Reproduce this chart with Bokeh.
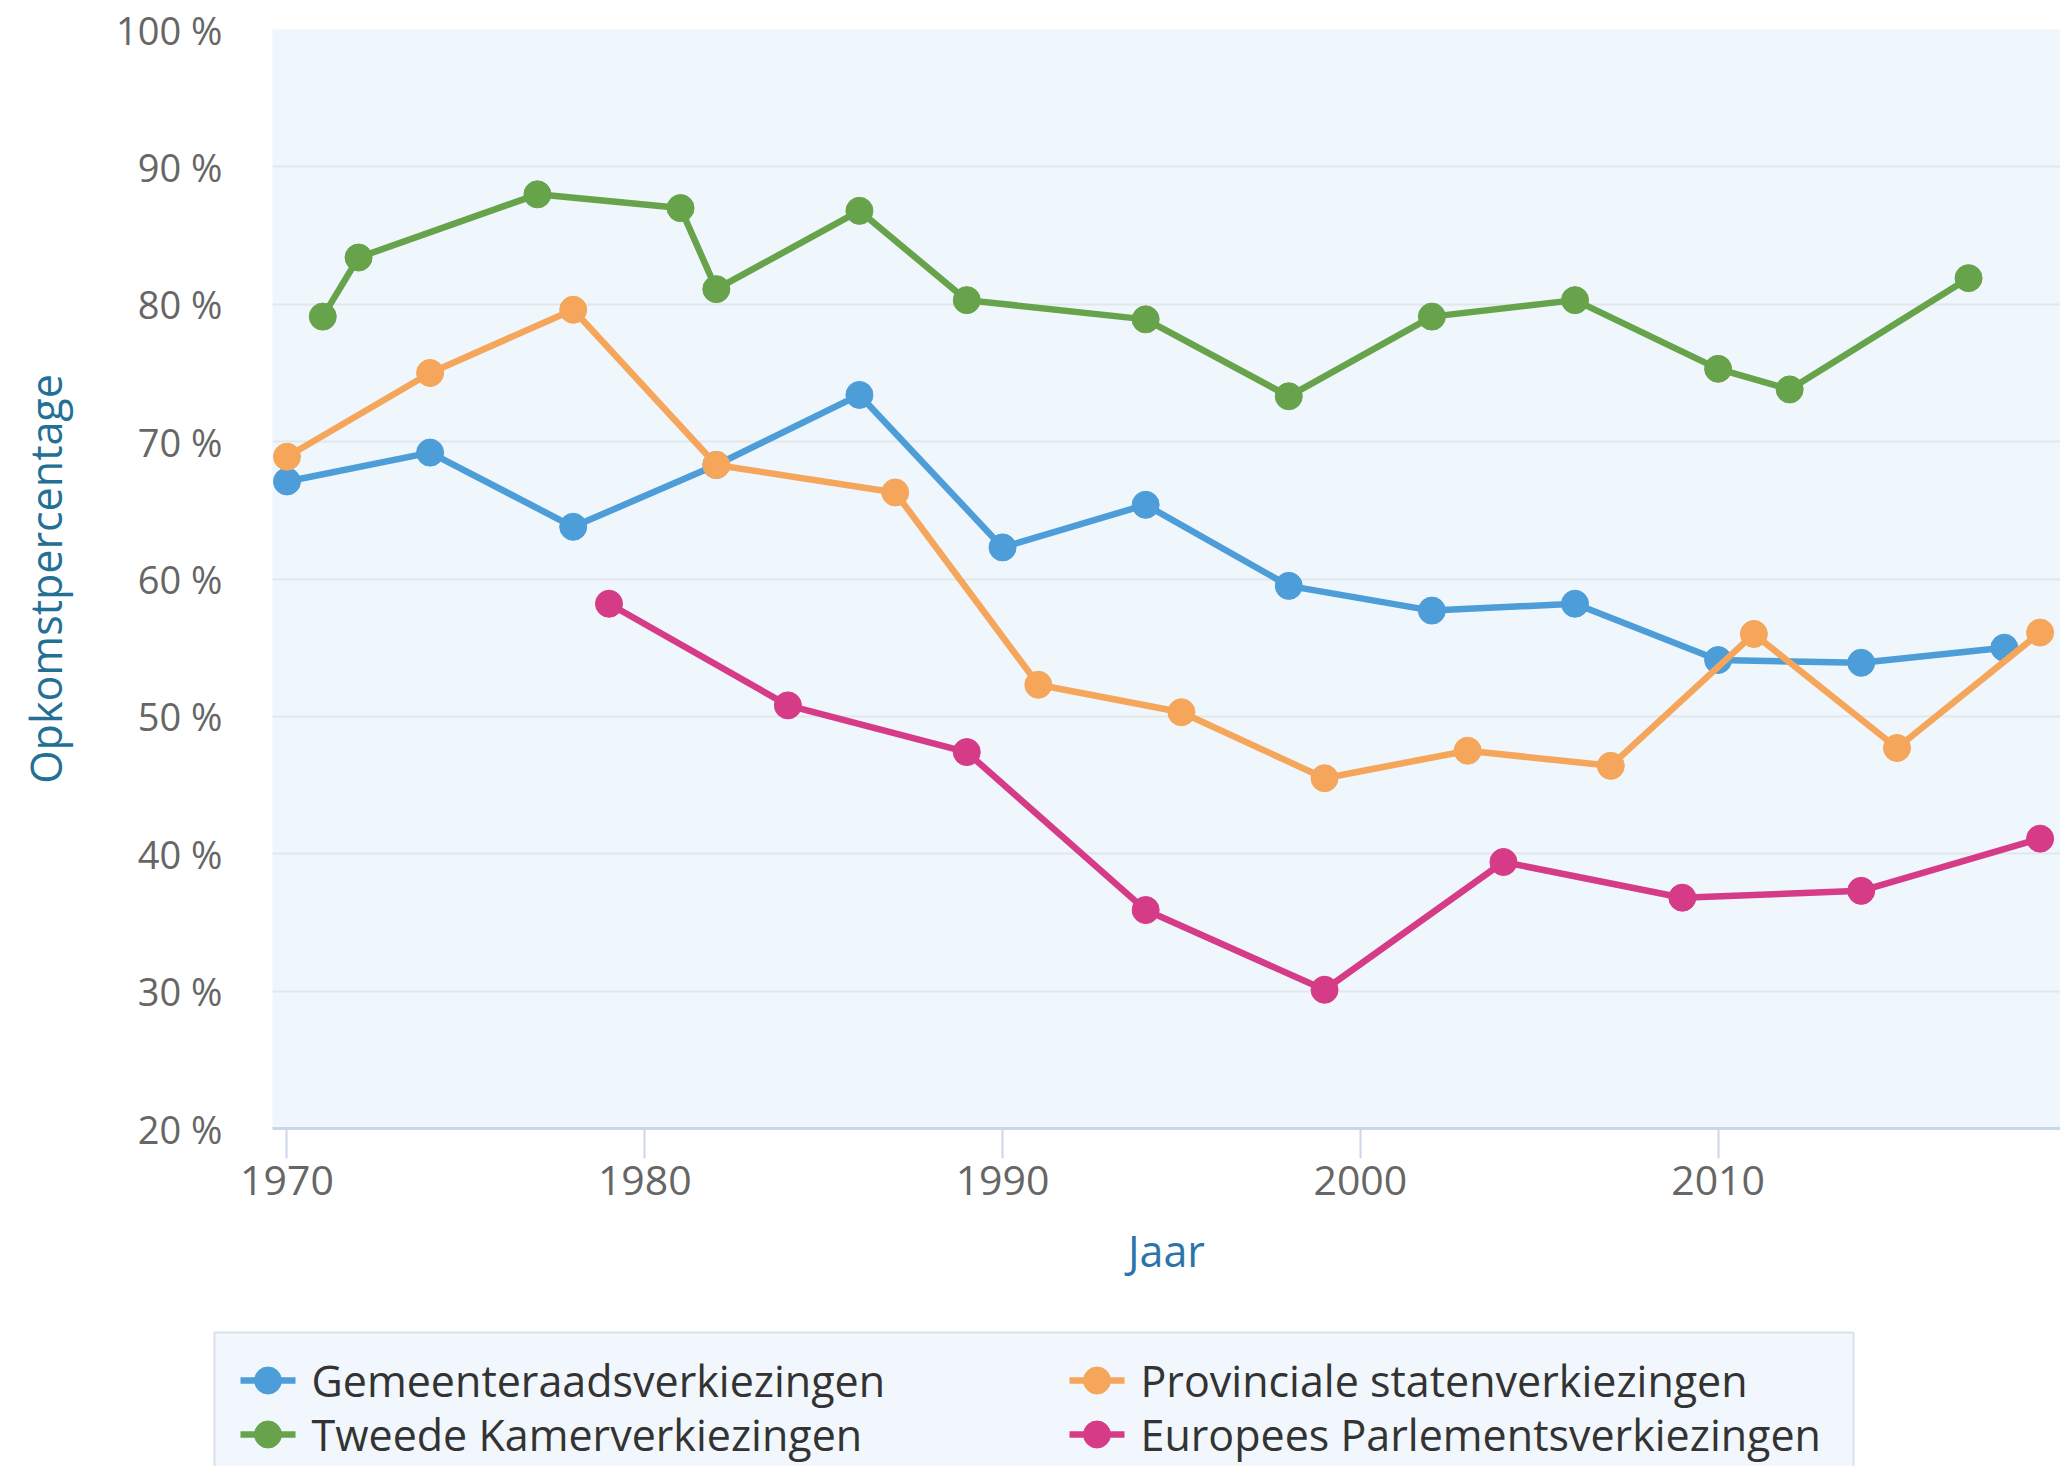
from bokeh.plotting import figure
from bokeh.layouts import column
from bokeh.models import FixedTicker, PrintfTickFormatter, Range1d
from bokeh.core.properties import value
from bokeh.embed import file_html
from bokeh.resources import INLINE

# ---- data ----
gem_years = [1970, 1974, 1978, 1982, 1986, 1990, 1994, 1998, 2002, 2006, 2010, 2014, 2018]
gem_vals = [67.1, 69.2, 63.8, 68.3, 73.4, 62.3, 65.4, 59.5, 57.7, 58.2, 54.1, 53.9, 55.0]

tk_years = [1971, 1972, 1977, 1981, 1982, 1986, 1989, 1994, 1998, 2002, 2006, 2010, 2012, 2017]
tk_vals = [79.1, 83.4, 88.0, 87.0, 81.1, 86.8, 80.3, 78.9, 73.3, 79.1, 80.3, 75.3, 73.8, 81.9]

ps_years = [1970, 1974, 1978, 1982, 1987, 1991, 1995, 1999, 2003, 2007, 2011, 2015, 2019]
ps_vals = [68.9, 75.0, 79.6, 68.3, 66.3, 52.3, 50.3, 45.5, 47.5, 46.4, 56.0, 47.7, 56.1]

ep_years = [1979, 1984, 1989, 1994, 1999, 2004, 2009, 2014, 2019]
ep_vals = [58.2, 50.8, 47.4, 35.9, 30.1, 39.4, 36.8, 37.3, 41.1]

names = ["Gemeenteraadsverkiezingen", "Tweede Kamerverkiezingen",
         "Provinciale statenverkiezingen", "Europees Parlementsverkiezingen"]
colors = ["#4d9dd8", "#67a34a", "#f5a65b", "#d63b87"]

x_ticks = [1970, 1980, 1990, 2000, 2010]
y_ticks = [20, 30, 40, 50, 60, 70, 80, 90, 100]

FONT = "Open Sans"
LINE_W = 6.5
MARK = 27

W = 2060
H1 = 1330
H2 = 136

# ---- main chart ----
p = figure(width=W, height=H1, output_backend="svg", toolbar_location=None,
           x_range=Range1d(1969.595, 2019.57), y_range=Range1d(20, 100),
           min_border_left=272, min_border_top=29, min_border_bottom=H1 - 1128,
           min_border_right=0)
p.frame_align = False

p.background_fill_color = "#eff6fc"
p.border_fill_color = "white"
p.outline_line_color = None

p.xgrid.grid_line_color = None
p.ygrid.grid_line_color = "#e2e7ec"
p.ygrid.grid_line_width = 2
p.ygrid.ticker = FixedTicker(ticks=y_ticks)

xa = p.xaxis[0]
xa.ticker = FixedTicker(ticks=x_ticks)
xa.axis_line_color = "#ccd6eb"
xa.axis_line_width = 3
xa.major_tick_line_color = "#ccd6eb"
xa.major_tick_line_width = 2
xa.major_tick_out = 30
xa.major_tick_in = 0
xa.minor_tick_line_color = None
xa.major_label_text_font = FONT
xa.major_label_text_font_size = "41px"
xa.major_label_text_color = "#666666"
xa.major_label_standoff = 7
xa.axis_label = "Jaar"
xa.axis_label_text_font = FONT
xa.axis_label_text_font_size = "43px"
xa.axis_label_text_font_style = "normal"
xa.axis_label_text_color = "#2b74ab"
xa.axis_label_standoff = 23

ya = p.yaxis[0]
ya.ticker = FixedTicker(ticks=y_ticks)
ya.formatter = PrintfTickFormatter(format="%d %%")
ya.axis_line_color = None
ya.major_tick_line_color = None
ya.minor_tick_line_color = None
ya.major_tick_out = 0
ya.major_tick_in = 0
ya.major_label_text_font = FONT
ya.major_label_text_font_size = "38px"
ya.major_label_text_color = "#666666"
ya.major_label_standoff = 50
ya.axis_label = "Opkomstpercentage"
ya.axis_label_text_font = FONT
ya.axis_label_text_font_size = "43px"
ya.axis_label_text_font_style = "normal"
ya.axis_label_text_color = "#236f96"
ya.axis_label_standoff = 38

series = [(gem_years, gem_vals), (tk_years, tk_vals), (ps_years, ps_vals), (ep_years, ep_vals)]
for (xs, ys), c in zip(series, colors):
    p.line(xs, ys, line_color=c, line_width=LINE_W)
    p.scatter(xs, ys, size=MARK, fill_color=c, line_color=c, line_width=1)

# ---- legend strip (pixel coordinates, y measured from the top of the strip) ----
p2 = figure(width=W, height=H2, output_backend="svg", toolbar_location=None,
            x_range=Range1d(0, W), y_range=Range1d(H2, 0),
            min_border_left=0, min_border_right=0, min_border_top=0, min_border_bottom=0,
            x_axis_location=None, y_axis_location=None)
p2.frame_align = False
p2.xgrid.visible = False
p2.ygrid.visible = False
p2.outline_line_color = None
p2.background_fill_color = "white"
p2.border_fill_color = "white"

box_left, box_right, box_top, box_bottom = 214, 1853, 2, 220
p2.quad(left=[box_left], right=[box_right], top=[box_top], bottom=[box_bottom],
        fill_color="#f1f7fc", line_color="#d9e1ea", line_width=2)

col_x = [240, 1069]         # left end of each legend symbol
row_y = [50, 104]           # centre of each legend row
sym_w = 55
text_gap = 16
slots = [(0, 0), (0, 1), (1, 0), (1, 1)]   # (column, row) for each series
for name, c, (ci, ri) in zip(names, colors, slots):
    x0 = col_x[ci]
    y0 = row_y[ri]
    p2.segment(x0=[x0], y0=[y0], x1=[x0 + sym_w], y1=[y0], line_color=c, line_width=LINE_W)
    p2.scatter(x=[x0 + sym_w / 2], y=[y0], size=MARK, fill_color=c, line_color=c)
    p2.text(x=[x0 + sym_w + text_gap], y=[y0], text=[name],
            text_font=value(FONT), text_font_size="43px", text_color="#333333",
            text_baseline="middle", text_align="left")

layout = column(p, p2, spacing=0)
open("out.html", "w").write(file_html(layout, INLINE))
